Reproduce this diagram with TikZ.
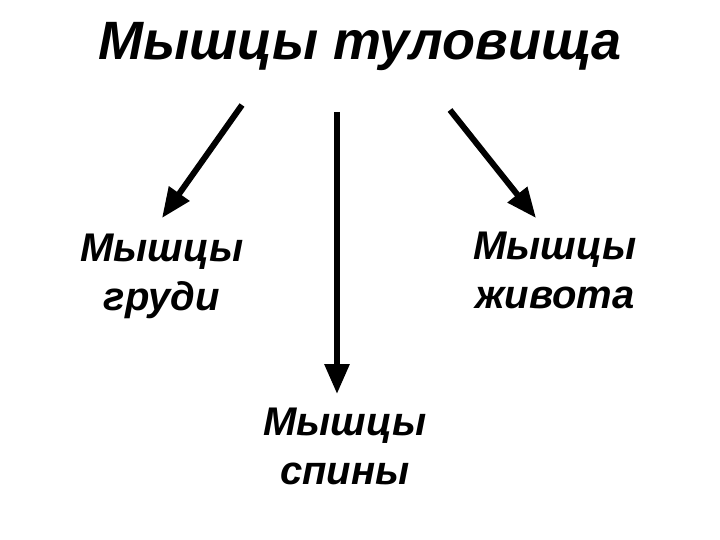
\documentclass[tikz,border=0pt]{standalone}
\usepackage{fontspec}
\setmainfont{Liberation Sans}
\usetikzlibrary{arrows.meta}
\begin{document}
\begin{tikzpicture}[x=1bp,y=-1bp,
  lbl/.style={font=\fontsize{40bp}{49bp}\selectfont\bfseries\itshape, align=center, inner sep=0pt},
  arr/.style={line width=6bp, -{Triangle[length=30bp,width=24bp]}}]
\useasboundingbox (0,0) rectangle (720,540);
\node[inner sep=0pt, font=\fontsize{54bp}{60bp}\selectfont\bfseries\itshape] (title) at (360,47) {Мышцы туловища};
\node[lbl] (chest) at (162,276) {Мышцы\\груди};
\node[lbl] (belly) at (555,270) {Мышцы\\живота};
\node[lbl] (back) at (345,446) {Мышцы\\спины};
\coordinate (s1) at (242,105);
\coordinate (e1) at (162,218);
\coordinate (s2) at (337,112);
\coordinate (e2) at (337,394);
\coordinate (s3) at (450,110);
\coordinate (e3) at (536,218);
\draw[arr] (s1) -- (e1);
\draw[arr] (s2) -- (e2);
\draw[arr] (s3) -- (e3);
\end{tikzpicture}
\end{document}
